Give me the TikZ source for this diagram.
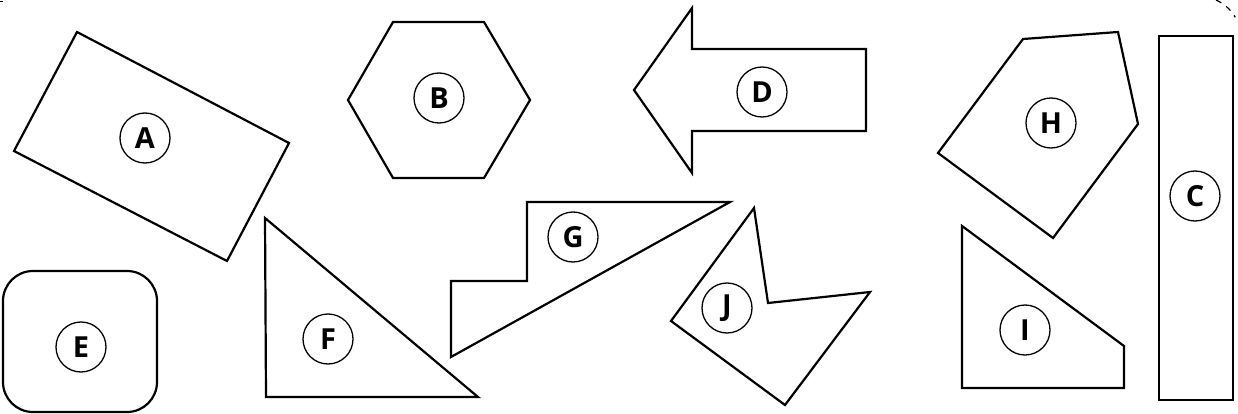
\documentclass[tikz,border=0pt]{standalone}
\usepackage{fontspec}
\setmainfont{Open Sans}
\begin{document}
\begin{tikzpicture}[x=1pt,y=-1pt,
  poly/.style={draw=black,line width=2.2pt,line join=miter},
  lbl/.style={circle,draw=black,line width=1.3pt,minimum size=50pt,inner sep=0pt,font=\fontsize{29}{29}\selectfont\bfseries},
  framepart/.style={draw=black,line width=1.2pt,dash pattern=on 6pt off 6pt}]
\useasboundingbox (0,0) rectangle (1238,414);
\clip (0,0) rectangle (1238,414);
% dashed frame remnants
\draw[framepart] (1216,0) arc[start angle=-66,end angle=-30,radius=42];
\draw[framepart] (0,1.5) -- (3,1.5);
% A
\draw[poly] (77,32) -- (289,143) -- (227,261) -- (14,151) -- cycle;
\node[lbl] (A) at (145,138) {A};
% B
\draw[poly] (393,22) -- (484,22) -- (530,100) -- (484,178) -- (393,178) -- (348,100) -- cycle;
\node[lbl] (B) at (439,98) {B};
% D
\draw[poly] (634,90) -- (692,8) -- (692,49) -- (866,49) -- (866,131) -- (692,131) -- (692,173) -- cycle;
\node[lbl] (D) at (762,92) {D};
% G
\draw[poly] (527,202) -- (730,202) -- (451,357) -- (451,281) -- (527,281) -- cycle;
\node[lbl] (G) at (573,237) {G};
% J
\draw[poly] (754,208) -- (768,303) -- (870,292) -- (785,405) -- (671,321) -- cycle;
\node[lbl] (J) at (727,308) {J};
% F
\draw[poly] (265,218) -- (478,397) -- (266,397) -- cycle;
\node[lbl] (F) at (328,339) {F};
% E
\draw[poly,rounded corners=30pt] (3,271) rectangle (157,412);
\node[lbl] (E) at (81,347) {E};
% H
\draw[poly] (1023,39) -- (1118,32) -- (1138,124) -- (1053,238) -- (938,153) -- cycle;
\node[lbl] (H) at (1051,123) {H};
% C
\draw[poly] (1159,36) rectangle (1233,400);
\node[lbl] (C) at (1195,196) {C};
% I
\draw[poly] (962,226) -- (1124,346) -- (1124,388) -- (962,388) -- cycle;
\node[lbl] (I) at (1025,330) {I};
\end{tikzpicture}
\end{document}
